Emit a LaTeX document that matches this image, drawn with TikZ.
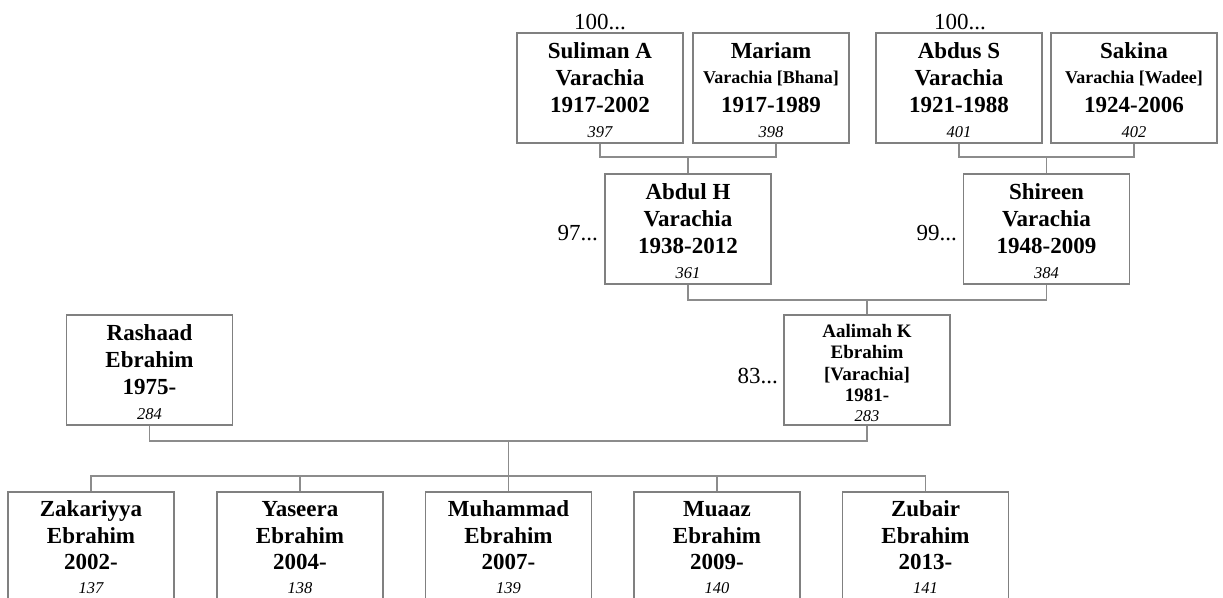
\documentclass[tikz,border=0pt]{standalone}
\usepackage{fontspec}
\setmainfont{Liberation Serif}
\usetikzlibrary{calc}
\definecolor{boxgray}{RGB}{128,128,128}
\definecolor{linegray}{RGB}{140,140,140}
\newcommand{\pnum}[1]{{\fontsize{16.5}{27}\selectfont\mdseries\itshape #1\rule[-2pt]{0pt}{2pt}}}
\newcommand{\snum}[1]{{\fontsize{16.5}{21.5}\selectfont\mdseries\itshape #1\rule[-1pt]{0pt}{1pt}}}
\newcommand{\psub}[1]{{\fontsize{18}{27}\selectfont #1}}
\newcommand{\hstrut}{\rule{0pt}{21pt}}
\newcommand{\cstrut}{\rule{0pt}{18.5pt}}
\newcommand{\sstrut}{\rule{0pt}{19.5pt}}
\begin{document}
\begin{tikzpicture}[x=1pt,y=-1pt,
  pbox/.style={draw=boxgray, line width=1.3pt, minimum width=166pt, minimum height=110pt,
    inner sep=0pt, align=center, font=\fontsize{23}{27}\selectfont\bfseries},
  cbox/.style={pbox, font=\fontsize{23}{26.5}\selectfont\bfseries},
  sbox/.style={pbox, font=\fontsize{19}{21.5}\selectfont\bfseries},
  conn/.style={draw=linegray, line width=1.3pt},
  more/.style={inner sep=0pt, font=\fontsize{23}{27}\selectfont}
]
\useasboundingbox (0,0) rectangle (1223,597);
\clip (0,0) rectangle (1223,597);
% generation 1
\node[pbox] (sul) at (600,88) {\hstrut Suliman A\\Varachia\\1917-2002\\[-2pt]\pnum{397}};
\node[pbox, minimum width=156pt] (mar) at (771,88) {\hstrut Mariam\\[-2pt]\psub{Varachia [Bhana]}\\[2pt]1917-1989\\[-2pt]\pnum{398}};
\node[pbox] (abs) at (959,88) {\hstrut Abdus S\\Varachia\\1921-1988\\[-2pt]\pnum{401}};
\node[pbox] (sak) at (1134,88) {\hstrut Sakina\\[-2pt]\psub{Varachia [Wadee]}\\[2pt]1924-2006\\[-2pt]\pnum{402}};
\node[more, anchor=base] (m1) at (600,29.5) {100...};
\node[more, anchor=base] (m2) at (960,29.5) {100...};
% generation 2
\node[pbox] (abd) at (688,229) {\hstrut Abdul H\\Varachia\\1938-2012\\[-2pt]\pnum{361}};
\node[pbox] (shi) at (1046.5,229) {\hstrut Shireen\\Varachia\\1948-2009\\[-2pt]\pnum{384}};
\node[more, anchor=base east] (m3) at (598,240) {97...};
\node[more, anchor=base east] (m4) at (957,240) {99...};
% generation 3
\node[pbox] (ras) at (149.5,370) {\hstrut Rashaad\\Ebrahim\\1975-\\[-2pt]\pnum{284}};
\node[sbox] (aal) at (867,370) {\sstrut Aalimah K\\Ebrahim\\\relax[Varachia]\\1981-\\[-1.5pt]\snum{283}};
\node[more, anchor=base east] (m5) at (778,383) {83...};
% generation 4
\node[cbox] (c1) at (91,547) {\cstrut Zakariyya\\Ebrahim\\2002-\\[-2.5pt]\pnum{137}};
\node[cbox] (c2) at (300,547) {\cstrut Yaseera\\Ebrahim\\2004-\\[-2.5pt]\pnum{138}};
\node[cbox] (c3) at (508.5,547) {\cstrut Muhammad\\Ebrahim\\2007-\\[-2.5pt]\pnum{139}};
\node[cbox] (c4) at (717,547) {\cstrut Muaaz\\Ebrahim\\2009-\\[-2.5pt]\pnum{140}};
\node[cbox] (c5) at (925.5,547) {\cstrut Zubair\\Ebrahim\\2013-\\[-2.5pt]\pnum{141}};
% connectors
\coordinate (marc) at ([xshift=5pt]mar.south);
\coordinate (b1) at (688,157);
\coordinate (b2) at (1046.5,157);
\coordinate (b3) at (867,300);
\coordinate (b4) at (508.5,441);
\coordinate (b5) at (508.5,476);
\draw[conn] (sul.south) |- (b1) -| (marc);
\draw[conn] (b1) -- (abd.north);
\draw[conn] (abs.south) |- (b2) -| (sak.south);
\draw[conn] (b2) -- (shi.north);
\draw[conn] (abd.south) |- (b3) -| (shi.south);
\draw[conn] (b3) -- (aal.north);
\draw[conn] (ras.south) |- (b4) -| (aal.south);
\draw[conn] (b4) -- (b5);
\draw[conn] (c1.north) |- (b5) -| (c5.north);
\draw[conn] (c2.north) -- (c2.north |- b5);
\draw[conn] (c3.north) -- (b5);
\draw[conn] (c4.north) -- (c4.north |- b5);
\end{tikzpicture}
\end{document}
